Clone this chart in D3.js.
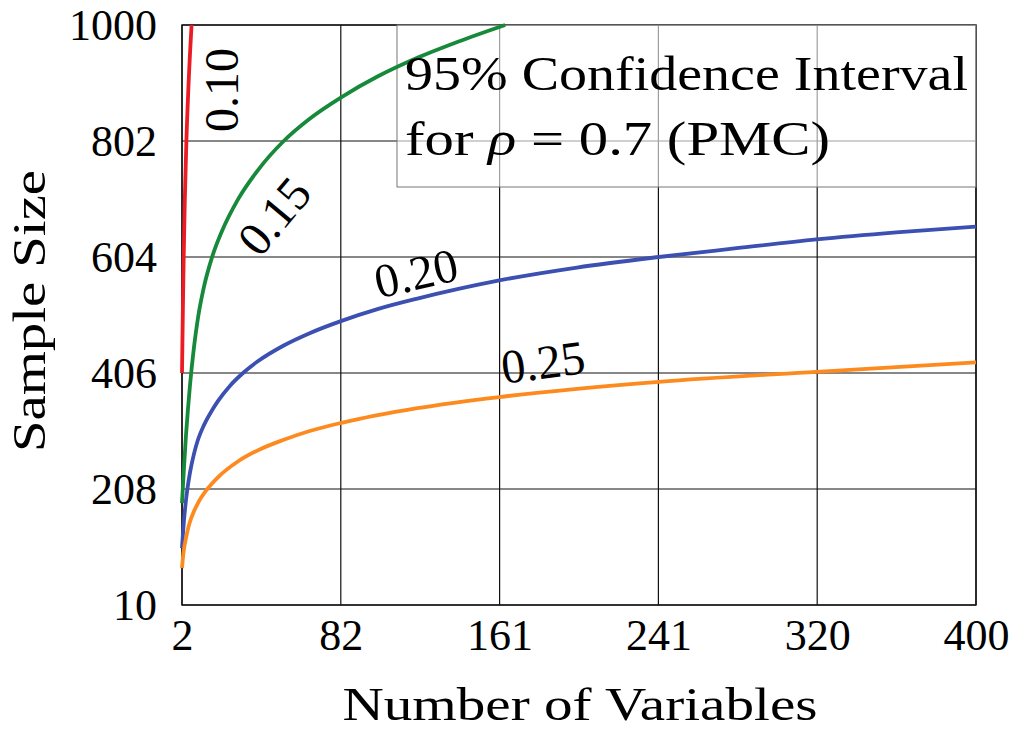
<!DOCTYPE html>
<html>
<head>
<meta charset="utf-8">
<script src="https://cdn.jsdelivr.net/npm/d3@7"></script>
<style>
  body { margin: 0; background: #fff; }
  text { font-family: "Liberation Serif", "DejaVu Serif", "Noto Serif", "Times New Roman", "FreeSerif", serif; fill: #000; }
</style>
</head>
<body>
<svg id="drawing_region"></svg>
<script>
// values
const xTickValues = [2, 81.6, 161.2, 240.8, 320.4, 400];
const xTickLabels = ["2", "82", "161", "241", "320", "400"];
const yTickValues = [10, 208, 406, 604, 802, 1000];
const yTickLabels = ["10", "208", "406", "604", "802", "1000"];

const widths = ["0.10", "0.15", "0.20", "0.25"];
const colors = ["#ec1c24", "#168a3a", "#3b50b0", "#fd8a1f"];

const x010 = [2, 2.4, 2.85, 3.4, 4.2, 5.3, 6.8];
const y010 = [406, 505, 604, 700, 802, 900, 1000];

const x015 = [2, 2.5, 3, 4, 5, 6, 8, 10, 13, 17, 22, 30, 40, 53, 66, 82, 100, 120, 140, 164];
const y015 = [184, 215, 245, 300, 345, 385, 450, 500, 553, 603, 648, 702, 752, 802, 840, 877, 912, 944, 971, 1000];

const x020 = [2, 2.5, 3, 4, 4.7, 6, 8, 10, 13, 17, 20, 26, 32.6, 40, 53, 66, 82, 100, 120, 140, 161, 200, 241, 280, 320, 360, 400];
const y020 = [107, 133, 155, 189, 208, 236, 268, 292, 317, 342, 358, 384, 406, 426, 453, 474, 495, 515, 533, 549, 564, 586, 604, 619, 634, 646, 656];

const x025 = [2, 2.5, 3, 4, 5, 6, 8, 10, 14.7, 20, 30, 40, 53, 66, 82, 120, 161, 200, 241, 320, 400];
const y025 = [73, 92, 106, 124, 140, 152, 170, 184, 208, 228, 255, 274, 292, 307, 321, 346, 365, 379, 391, 408, 424];

const config = {
    parent: '#drawing_region',
    width: 1010,
    height: 731,
    margin: {top: 25, right: 34, bottom: 126, left: 182}
};

const series = [
    {xs: x010, ys: y010},
    {xs: x015, ys: y015},
    {xs: x020, ys: y020},
    {xs: x025, ys: y025}
].map((s, i) => ({
    label: widths[i],
    color: colors[i],
    points: s.xs.map((x, j) => ({x: x, y: s.ys[j]}))
}));

const svg = d3.select(config.parent)
    .attr('width', config.width)
    .attr('height', config.height);

const inner_width = config.width - config.margin.left - config.margin.right;
const inner_height = config.height - config.margin.top - config.margin.bottom;

const chart = svg.append('g')
    .attr('transform', `translate(${config.margin.left}, ${config.margin.top})`);

const xscale = d3.scaleLinear().domain([2, 400]).range([0, inner_width]);
const yscale = d3.scaleLinear().domain([10, 1000]).range([inner_height, 0]);

// grid
chart.append('g').selectAll('line')
    .data(xTickValues).enter().append('line')
    .attr('x1', d => xscale(d)).attr('x2', d => xscale(d))
    .attr('y1', 0).attr('y2', inner_height)
    .attr('stroke', '#111').attr('stroke-width', 1.2);

chart.append('g').selectAll('line')
    .data(yTickValues).enter().append('line')
    .attr('x1', 0).attr('x2', inner_width)
    .attr('y1', d => yscale(d)).attr('y2', d => yscale(d))
    .attr('stroke', '#111').attr('stroke-width', 1.2);

chart.append('rect')
    .attr('width', inner_width).attr('height', inner_height)
    .attr('fill', 'none').attr('stroke', '#111').attr('stroke-width', 1.4);

// axes (labels only, the grid draws the lines)
const xaxis = d3.axisBottom(xscale)
    .tickValues(xTickValues)
    .tickFormat((d, i) => xTickLabels[i])
    .tickSize(0).tickPadding(14);

const yaxis = d3.axisLeft(yscale)
    .tickValues(yTickValues)
    .tickFormat((d, i) => yTickLabels[i])
    .tickSize(0).tickPadding(25);

const xaxis_group = chart.append('g')
    .attr('transform', `translate(0, ${inner_height})`)
    .call(xaxis);
const yaxis_group = chart.append('g').call(yaxis);

[xaxis_group, yaxis_group].forEach(g => {
    g.attr('font-family', null);
    g.select('.domain').remove();
    g.selectAll('text')
        .attr('font-size', 44)
        .attr('fill', '#000');
});

// title box, under the curves but over the grid
svg.append('rect')
    .attr('x', 397).attr('y', config.margin.top)
    .attr('width', config.margin.left + inner_width - 397).attr('height', 162)
    .attr('fill', '#fff').attr('fill-opacity', 0.6)
    .attr('stroke', '#777').attr('stroke-width', 1);

// curves
const line = d3.line()
    .x(d => xscale(d.x))
    .y(d => yscale(d.y))
    .curve(d3.curveMonotoneX);

const curves = svg.append('g')
    .attr('transform', `translate(${config.margin.left}, ${config.margin.top})`);

curves.selectAll('path')
    .data(series).enter().append('path')
    .attr('d', d => line(d.points))
    .attr('fill', 'none')
    .attr('stroke', d => d.color)
    .attr('stroke-width', 3.8);

// curve labels
const labelPos = [
    {x: 221, y: 90, a: -90},
    {x: 274, y: 216, a: -50},
    {x: 416, y: 273, a: -13},
    {x: 543, y: 362, a: -7.5}
];

svg.append('g').selectAll('text')
    .data(series).enter().append('text')
    .attr('transform', (d, i) => `translate(${labelPos[i].x}, ${labelPos[i].y}) rotate(${labelPos[i].a})`)
    .attr('text-anchor', 'middle')
    .attr('dominant-baseline', 'central')
    .attr('font-size', 48)
    .text(d => d.label);

// title text
const title = svg.append('g').attr('font-size', 48);
title.append('text')
    .attr('x', 405).attr('y', 90)
    .attr('textLength', 563).attr('lengthAdjust', 'spacingAndGlyphs')
    .text('95% Confidence Interval');
const t2 = title.append('text')
    .attr('x', 405).attr('y', 155)
    .attr('textLength', 425).attr('lengthAdjust', 'spacingAndGlyphs');
t2.append('tspan').text('for ');
t2.append('tspan').attr('font-style', 'italic').text('ρ');
t2.append('tspan').text(' = 0.7 (PMC)');

// axis titles
svg.append('text')
    .attr('x', 580).attr('y', 720)
    .attr('text-anchor', 'middle')
    .attr('font-size', 47)
    .attr('textLength', 475).attr('lengthAdjust', 'spacingAndGlyphs')
    .text('Number of Variables');

svg.append('text')
    .attr('transform', 'translate(45, 311) rotate(-90)')
    .attr('text-anchor', 'middle')
    .attr('font-size', 47)
    .attr('textLength', 282).attr('lengthAdjust', 'spacingAndGlyphs')
    .text('Sample Size');
</script>
</body>
</html>
